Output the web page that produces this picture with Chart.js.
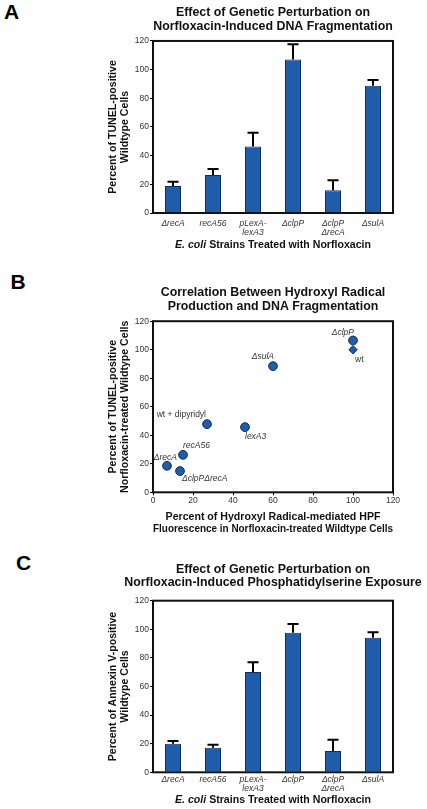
<!DOCTYPE html>
<html><head><meta charset="utf-8">
<script src="https://cdn.jsdelivr.net/npm/chart.js@4.4.1/dist/chart.umd.min.js"></script>
<style>
html,body{margin:0;padding:0;background:#fff;width:427px;height:809px;overflow:hidden;position:relative;}
canvas{position:absolute;left:0;}
.lbl{position:absolute;font:bold 21px 'Liberation Sans',Arial,sans-serif;line-height:21px;color:#000;}
</style></head><body>
<div class="lbl" style="left:4px;top:1px">A</div>
<div class="lbl" style="left:10.5px;top:271px">B</div>
<div class="lbl" style="left:16px;top:552px">C</div>
<canvas id="cA" width="546" height="270" style="top:0;width:546px;height:270px"></canvas>
<canvas id="cB" width="546" height="272" style="top:270px;width:546px;height:272px"></canvas>
<canvas id="cC" width="546" height="267" style="top:542px;width:546px;height:267px"></canvas>
<script>
// ---------- data ----------
const strains = [['ΔrecA'], ['recA56'], ['pLexA-', 'lexA3'], ['ΔclpP'], ['ΔclpP', 'ΔrecA'], ['ΔsulA']];
const tunelMean = [18.8, 26.5, 46.3, 107, 15.8, 88.8];
const tunelErr = [3.0, 4.2, 9.7, 10.7, 7.0, 4.0];
const annexinMean = [20, 17.2, 70.1, 97.6, 14.9, 94.1];
const annexinErr = [1.9, 2.1, 6.8, 6.1, 7.9, 3.8];
const pointNames = ['ΔclpP', 'wt', 'ΔsulA', 'wt + dipyridyl', 'lexA3', 'recA56', 'ΔrecA', 'ΔclpPΔrecA'];
const hpfX = [100, 100, 60, 27, 46, 15, 7, 13.5];
const tunelY = [106.5, 100, 88.5, 47.8, 45.7, 26.3, 18.6, 14.9];
const yTicks = [0, 20, 40, 60, 80, 100, 120];
const xTicks = [0, 20, 40, 60, 80, 100, 120];

// ---------- style ----------
const FONT = "'Liberation Sans', Arial, sans-serif";
const BLUE = '#1f5dab';
const EDGE = '#0f2f5e';
const TXT = '#222';
Chart.defaults.font.family = FONT;
Chart.defaults.color = TXT;

// empty right-hand spacer axis: keeps the plot at x=153..393 while the
// (546px wide) canvas lets the titles centre over the plot, like the original
const spacerAxis = {
  position: 'right', display: true, min: 0, max: 1,
  afterFit: s => { s.width = 153; },
  grid: {display: false, drawTicks: false}, border: {display: false},
  ticks: {display: false}
};

const framePlugin = {
  id: 'frame',
  afterDraw(chart) {
    const a = chart.chartArea, c = chart.ctx;
    c.save(); c.strokeStyle = '#111'; c.lineWidth = 2;
    c.strokeRect(a.left, a.top, a.right - a.left, a.bottom - a.top);
    c.restore();
  }
};

const errorPlugin = {
  id: 'errbars',
  afterDatasetsDraw(chart, args, opts) {
    const meta = chart.getDatasetMeta(0), ys = chart.scales.y, c = chart.ctx;
    const mean = opts.mean, err = opts.err;
    c.save(); c.strokeStyle = '#000'; c.lineWidth = 2;
    meta.data.forEach((bar, i) => {
      const y0 = ys.getPixelForValue(mean[i]);
      const y1 = ys.getPixelForValue(mean[i] + err[i]);
      c.beginPath();
      c.moveTo(bar.x, y0); c.lineTo(bar.x, y1);
      c.moveTo(bar.x - 5.5, y1); c.lineTo(bar.x + 5.5, y1);
      c.stroke();
    });
    c.restore();
  }
};

const mixedTitlePlugin = {
  id: 'mixedTitle',
  afterDraw(chart, args, opts) {
    const a = chart.chartArea, c = chart.ctx;
    const fi = 'italic bold 10.6px ' + FONT, fb = 'bold 10.6px ' + FONT;
    const t1 = 'E. coli', t2 = ' Strains Treated with Norfloxacin';
    c.save(); c.fillStyle = '#111'; c.textBaseline = 'middle'; c.textAlign = 'left';
    c.font = fi; const w1 = c.measureText(t1).width;
    c.font = fb; const w2 = c.measureText(t2).width;
    const x0 = (a.left + a.right) / 2 - (w1 + w2) / 2;
    c.font = fi; c.fillText(t1, x0, opts.y);
    c.font = fb; c.fillText(t2, x0 + w1, opts.y);
    c.restore();
  }
};

// placement of the point labels (style only)
const labelPlace = [
  {align: 'right', dx: 1, dy: -8, it: true},
  {align: 'left', dx: 2, dy: 9.5, it: false},
  {align: 'right', dx: 1, dy: -9, it: true},
  {align: 'right', dx: -1, dy: -9.3, it: false},
  {align: 'left', dx: 0, dy: 9.7, it: true},
  {align: 'left', dx: 0, dy: -9, it: true},
  {align: 'right', dx: 10, dy: -8.4, it: true},
  {align: 'left', dx: 2, dy: 7.7, it: true}
];
const pointLabelPlugin = {
  id: 'pointLabels',
  afterDatasetsDraw(chart) {
    const meta = chart.getDatasetMeta(0), c = chart.ctx;
    c.save(); c.fillStyle = '#333'; c.textBaseline = 'middle';
    meta.data.forEach((pt, i) => {
      const p = labelPlace[i];
      c.font = (p.it ? 'italic ' : '') + '8.5px ' + FONT;
      c.textAlign = p.align;
      c.fillText(pointNames[i], pt.x + p.dx, pt.y + p.dy);
    });
    c.restore();
  }
};

function yScale(titleLines) {
  return {
    type: 'linear', min: 0, max: 120,
    afterBuildTicks: s => { s.ticks = yTicks.map(v => ({value: v})); },
    afterFit: s => { s.width = 153; },
    border: {display: false},
    grid: {display: true, drawOnChartArea: false, drawTicks: true, tickLength: 3, color: '#000', tickColor: '#000', tickWidth: 1},
    ticks: {font: {size: 8.5}, color: '#333', padding: 1},
    title: {display: true, text: titleLines, font: {size: 10.6, weight: 'bold', lineHeight: 1.18}, color: '#111', padding: {top: 106.7, bottom: 0}}
  };
}

function barChart(id, titleLines, yTitle, mean, err, o) {
  return new Chart(document.getElementById(id), {
    type: 'bar',
    data: {labels: strains, datasets: [{data: mean, backgroundColor: BLUE, borderColor: EDGE, borderWidth: 1, barPercentage: 0.4, categoryPercentage: 1, yAxisID: 'y'}]},
    options: {
      responsive: false, animation: false, devicePixelRatio: 1,
      layout: {padding: 0},
      plugins: {
        legend: {display: false}, tooltip: {enabled: false},
        title: {display: true, text: titleLines, font: {size: 12.4, weight: 'bold', lineHeight: '13.3px'}, color: '#111', padding: o.tpad},
        errbars: {mean: mean, err: err},
        mixedTitle: {y: o.xTitleY}
      },
      scales: {
        x: {
          afterFit: s => { s.height = o.xh; },
          border: {display: false}, grid: {display: false, drawTicks: false},
          ticks: {font: {size: 8.5, style: 'italic', lineHeight: 1.05}, color: '#333', padding: o.tickPad, maxRotation: 0, autoSkip: false}
        },
        y: yScale(yTitle),
        spacer: spacerAxis
      }
    },
    plugins: [framePlugin, errorPlugin, mixedTitlePlugin]
  });
}

barChart('cA', ['Effect of Genetic Perturbation on', 'Norfloxacin-Induced DNA Fragmentation'],
  ['Percent of TUNEL-positive', 'Wildtype Cells'], tunelMean, tunelErr,
  {tpad: {top: 6.35, bottom: 8}, xh: 57, tickPad: 6.5, xTitleY: 244.7});

barChart('cC', ['Effect of Genetic Perturbation on', 'Norfloxacin-Induced Phosphatidylserine Exposure'],
  ['Percent of Annexin V-positive', 'Wildtype Cells'], annexinMean, annexinErr,
  {tpad: {top: 20.55, bottom: 11.55}, xh: 36.7, tickPad: 3.2, xTitleY: 258.3});

new Chart(document.getElementById('cB'), {
  type: 'scatter',
  data: {datasets: [{
    data: hpfX.map((x, i) => ({x: x, y: tunelY[i]})),
    xAxisID: 'x', yAxisID: 'y',
    backgroundColor: BLUE, borderColor: EDGE, borderWidth: 1,
    pointStyle: pointNames.map(n => n === 'wt' ? 'rectRot' : 'circle'),
    pointRadius: pointNames.map(n => n === 'wt' ? 4.2 : 4.4)
  }]},
  options: {
    responsive: false, animation: false, devicePixelRatio: 1,
    layout: {padding: 0},
    plugins: {
      legend: {display: false}, tooltip: {enabled: false},
      title: {display: true, text: ['Correlation Between Hydroxyl Radical', 'Production and DNA Fragmentation'], font: {size: 12.4, weight: 'bold', lineHeight: '13.5px'}, color: '#111', padding: {top: 16.1, bottom: 8.1}}
    },
    scales: {
      x: {
        type: 'linear', min: 0, max: 120,
        afterBuildTicks: s => { s.ticks = xTicks.map(v => ({value: v})); },
        afterFit: s => { s.height = 49.7; },
        border: {display: false},
        grid: {display: true, drawOnChartArea: false, drawTicks: true, tickLength: 3, color: '#000', tickColor: '#000'},
        ticks: {font: {size: 8.5, lineHeight: 1.1}, color: '#333', padding: 1, maxRotation: 0},
        title: {display: true, text: ['Percent of Hydroxyl Radical-mediated HPF', 'Fluorescence in Norfloxacin-treated Wildtype Cells'], font: {size: 10.6, weight: 'bold', lineHeight: 1.1}, color: '#111', padding: {top: 0, bottom: 7.4}}
      },
      y: yScale(['Percent of TUNEL-positive', 'Norfloxacin-treated Wildtype Cells']),
      spacer: Object.assign({type: 'linear'}, spacerAxis)
    }
  },
  plugins: [framePlugin, pointLabelPlugin]
});
</script>
</body></html>
